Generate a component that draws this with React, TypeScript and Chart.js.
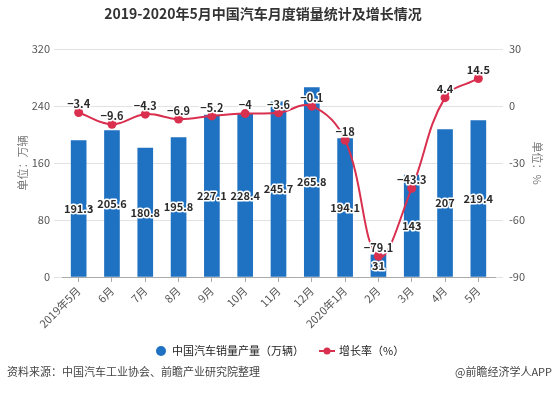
import React, { useEffect, useRef } from "react";
import { Chart, registerables } from "chart.js";

Chart.register(...registerables);

const categories = ["2019年5月", "6月", "7月", "8月", "9月", "10月", "11月", "12月", "2020年1月", "2月", "3月", "4月", "5月"];
const salesValues = [191.3, 205.6, 180.8, 195.8, 227.1, 228.4, 245.7, 265.8, 194.1, 31, 143, 207, 219.4];
const growthValues = [-3.4, -9.6, -4.3, -6.9, -5.2, -4, -3.6, -0.1, -18, -79.1, -43.3, 4.4, 14.5];
const leftTickRange = [0, 320, 80];
const rightTickRange = [-90, 30, 30];

const chartTitle = "2019-2020年5月中国汽车月度销量统计及增长情况";
const salesLabel = "中国汽车销量产量（万辆）";
const growthLabel = "增长率（%）";
const leftAxisTitle = "单位：万辆";
const rightAxisTitle = "单位：%";
const sourceNote = "资料来源：中国汽车工业协会、前瞻产业研究院整理";
const credit = "@前瞻经济学人APP";

const BAR_COLOR = "#1f71c1";
const LINE_COLOR = "#d9304f";
const CJK = "'Noto Sans CJK SC', 'Noto Sans', sans-serif";

const fmt = (v: number) => (v < 0 ? "\u2212" + Math.abs(v) : String(v));

const overlay = {
  id: "overlay",
  afterDatasetsDraw(chart: any) {
    const ctx = chart.ctx;
    ctx.save();
    ctx.textAlign = "center";
    ctx.lineJoin = "round";
    ctx.font = `bold 11px ${CJK}`;
    const barMeta = chart.getDatasetMeta(1);
    barMeta.data.forEach((el: any, i: number) => {
      const p = el.getProps(["x", "y", "base"], true);
      const y = (p.y + p.base) / 2;
      const t = fmt(salesValues[i]);
      ctx.textBaseline = "middle";
      ctx.lineWidth = 3;
      ctx.strokeStyle = "#ffffff";
      ctx.strokeText(t, p.x, y);
      ctx.fillStyle = "#2b2b2b";
      ctx.fillText(t, p.x, y);
    });
    const lineMeta = chart.getDatasetMeta(0);
    lineMeta.data.forEach((el: any, i: number) => {
      const p = el.getProps(["x", "y"], true);
      const t = fmt(growthValues[i]);
      ctx.textBaseline = "bottom";
      ctx.lineWidth = 3;
      ctx.strokeStyle = "#ffffff";
      ctx.strokeText(t, p.x, p.y - 3);
      ctx.fillStyle = "#2b2b2b";
      ctx.fillText(t, p.x, p.y - 3);
    });
    ctx.restore();
  },
  afterDraw(chart: any) {
    const ctx = chart.ctx;
    ctx.save();
    // title
    ctx.font = `bold 14px ${CJK}`;
    ctx.fillStyle = "#333333";
    ctx.textAlign = "center";
    ctx.textBaseline = "middle";
    ctx.fillText(chartTitle, 263, 14);
    // legend
    const ly = 351;
    ctx.fillStyle = BAR_COLOR;
    ctx.beginPath();
    ctx.arc(161, ly, 5, 0, Math.PI * 2);
    ctx.fill();
    ctx.font = `11px ${CJK}`;
    ctx.fillStyle = "#222222";
    ctx.textAlign = "left";
    ctx.fillText(salesLabel, 172, ly);
    ctx.strokeStyle = LINE_COLOR;
    ctx.lineWidth = 2;
    ctx.beginPath();
    ctx.moveTo(319, ly);
    ctx.lineTo(335, ly);
    ctx.stroke();
    ctx.fillStyle = LINE_COLOR;
    ctx.beginPath();
    ctx.arc(327, ly, 3.5, 0, Math.PI * 2);
    ctx.fill();
    ctx.fillStyle = "#222222";
    ctx.fillText(growthLabel, 339, ly);
    // footer
    ctx.fillStyle = "#444444";
    ctx.font = `11px ${CJK}`;
    ctx.textAlign = "left";
    ctx.fillText(sourceNote, 7, 372);
    ctx.textAlign = "right";
    ctx.fillText(credit, 552, 372);
    ctx.restore();
  },
};

export default function App() {
  const ref = useRef<HTMLCanvasElement>(null);
  useEffect(() => {
    document.body.style.margin = "0";
    const tickFont = { size: 11, family: CJK };
    const chart = new Chart(ref.current as HTMLCanvasElement, {
      type: "bar",
      data: {
        labels: categories,
        datasets: [
          {
            type: "line",
            label: growthLabel,
            data: growthValues,
            yAxisID: "y1",
            borderColor: LINE_COLOR,
            backgroundColor: LINE_COLOR,
            borderWidth: 2,
            pointRadius: 4.5,
            pointBorderWidth: 0,
            pointBackgroundColor: LINE_COLOR,
            tension: 0.4,
            order: 0,
          } as any,
          {
            type: "bar",
            label: salesLabel,
            data: salesValues,
            yAxisID: "y",
            backgroundColor: BAR_COLOR,
            barThickness: 15,
            order: 1,
          },
        ],
      },
      options: {
        responsive: false,
        animation: false,
        devicePixelRatio: 1,
        layout: { padding: { top: 49, left: 0, right: 0, bottom: 0 } },
        plugins: {
          legend: { display: false },
          title: { display: false },
          tooltip: { enabled: false },
        },
        scales: {
          x: {
            offset: true,
            grid: { display: true, drawOnChartArea: false, offset: false, tickLength: 5, color: "#aaaaaa" },
            border: { display: true, color: "#aaaaaa" },
            ticks: { autoSkip: false, maxRotation: 45, minRotation: 45, padding: 2, color: "#555555", font: tickFont },
            afterFit: (s: any) => {
              s.height = 122;
            },
          },
          y: {
            position: "left",
            min: leftTickRange[0],
            max: leftTickRange[1],
            ticks: { stepSize: leftTickRange[2], padding: 4, color: "#555555", font: tickFont },
            grid: { color: "#e2e2e2", tickLength: 8 },
            border: { display: false },
            title: { display: true, text: leftAxisTitle, color: "#777777", font: { size: 11, family: CJK }, padding: { top: 16, bottom: 0 } },
            afterFit: (s: any) => {
              s.width = 62;
            },
          },
          y1: {
            position: "right",
            min: rightTickRange[0],
            max: rightTickRange[1],
            ticks: { stepSize: rightTickRange[2], padding: 6, color: "#555555", font: tickFont },
            grid: { color: "#e2e2e2", tickLength: 8, drawOnChartArea: false },
            border: { display: false },
            title: { display: true, text: rightAxisTitle, color: "#777777", font: { size: 11, family: CJK }, padding: { top: 10, bottom: 0 } },
            afterFit: (s: any) => {
              s.width = 59;
            },
          },
        },
      } as any,
      plugins: [overlay],
    });
    return () => chart.destroy();
  }, []);
  return (
    <div style={{ width: 554, height: 399 }}>
      <canvas ref={ref} width={554} height={399} style={{ display: "block" }} />
    </div>
  );
}
